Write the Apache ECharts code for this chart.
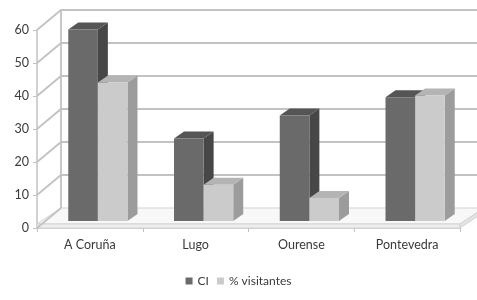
<!DOCTYPE html>
<html>
<head>
<meta charset="utf-8">
<script src="https://cdn.jsdelivr.net/npm/echarts@6/dist/echarts.min.js"></script>
<style>
  html, body { margin: 0; padding: 0; background: #fff; }
  #grafico { width: 477px; height: 300px; }
</style>
</head>
<body>
<div id="grafico"></div>
<script>
// datos
const provincias = ["A Coruña", "Lugo", "Ourense", "Pontevedra"];
const valoresCI = [58, 25, 32, 37.5];
const valoresVisitantes = [42, 11, 7, 38];
const ticksY = [0, 10, 20, 30, 40, 50, 60];

// profundidad 3D (pixeles)
const FONDO_X = 24, FONDO_Y = -20;
const BARRA_X = 8, BARRA_Y = -7;
const LADO_X = 10, LADO_Y = -7;

const chart = echarts.init(document.getElementById("grafico"));

// paredes y suelo
function pintarParedes(params, api) {
  const cs = params.coordSys;
  const v = api.value(0);
  const y = api.coord([0, v])[1];
  const L = cs.x, R = cs.x + cs.width;
  const linea = { stroke: "#c2c2c2", lineWidth: 1.8, fill: null };
  const hijos = [];
  if (v === 0) {
    const y0 = y;
    hijos.push({
      type: "polygon",
      shape: { points: [[L, y0 - 4], [R, y0 - 4], [R + FONDO_X, y0 + FONDO_Y], [L + FONDO_X, y0 + FONDO_Y]] },
      style: { fill: "#f8f8f8", stroke: "#d2d2d2", lineWidth: 1 }
    });
    hijos.push({
      type: "rect",
      shape: { x: L, y: y0 - 4, width: R - L, height: 4 },
      style: { fill: "#eeeeee", stroke: "#d2d2d2", lineWidth: 1 }
    });
    hijos.push({
      type: "polygon",
      shape: { points: [[R, y0 - 4], [R + FONDO_X, y0 + FONDO_Y], [R + FONDO_X, y0 + FONDO_Y + 4], [R, y0]] },
      style: { fill: "#e4e4e4", stroke: "#d2d2d2", lineWidth: 1 }
    });
    const yTop = api.coord([0, ticksY[ticksY.length - 1]])[1];
    hijos.push({
      type: "line",
      shape: { x1: L + FONDO_X, y1: y0 + FONDO_Y, x2: L + FONDO_X, y2: yTop + FONDO_Y },
      style: linea
    });
    hijos.push({
      type: "line",
      shape: { x1: L, y1: y0, x2: L + FONDO_X, y2: y0 + FONDO_Y },
      style: linea
    });
  } else {
    hijos.push({
      type: "polyline",
      shape: { points: [[L, y], [L + FONDO_X, y + FONDO_Y], [R + FONDO_X, y + FONDO_Y]] },
      style: linea
    });
  }
  return { type: "group", children: hijos };
}

function pintarBarra(params, api) {
  const idx = api.value(0);
  const val = api.value(1);
  const base = api.coord([idx, 0]);
  const tope = api.coord([idx, val]);
  const w = api.size([1, 0])[0] * 0.28;
  const x0 = (params.seriesIndex === 1 ? base[0] - w : base[0]) + BARRA_X;
  const yT = tope[1] + BARRA_Y;
  const yB = base[1] + BARRA_Y;
  const colores = params.seriesIndex === 1
    ? { frente: "#6a6a6a", lado: "#474747", arriba: "#555555" }
    : { frente: "#cbcbcb", lado: "#9c9c9c", arriba: "#b4b4b4" };
  return {
    type: "group",
    children: [
      {
        type: "polygon",
        shape: { points: [[x0 + w, yT], [x0 + w + LADO_X, yT + LADO_Y], [x0 + w + LADO_X, yB + LADO_Y], [x0 + w, yB]] },
        style: { fill: colores.lado }
      },
      {
        type: "polygon",
        shape: { points: [[x0, yT], [x0 + LADO_X, yT + LADO_Y], [x0 + w + LADO_X, yT + LADO_Y], [x0 + w, yT]] },
        style: { fill: colores.arriba }
      },
      {
        type: "rect",
        shape: { x: x0, y: yT, width: w, height: yB - yT },
        style: { fill: colores.frente }
      }
    ]
  };
}

chart.setOption({
  animation: false,
  textStyle: { fontFamily: "Lato, 'Open Sans', sans-serif" },
  grid: { left: 37, right: 17, top: 30, bottom: 72 },
  legend: {
    bottom: 8,
    left: "center",
    icon: "rect",
    itemWidth: 7,
    itemHeight: 7,
    itemGap: 8,
    textStyle: { fontSize: 12, color: "#3a3a3a" },
    data: ["CI", "% visitantes"]
  },
  xAxis: {
    type: "category",
    data: provincias,
    axisLine: { lineStyle: { color: "#c2c2c2", width: 1.5 } },
    axisTick: { show: true, length: 4, lineStyle: { color: "#c2c2c2" } },
    axisLabel: { fontSize: 12.5, color: "#3a3a3a", margin: 10 }
  },
  yAxis: {
    type: "value",
    min: 0,
    max: 60,
    interval: 10,
    splitLine: { show: false },
    axisLine: { show: true, lineStyle: { color: "#c2c2c2", width: 1.5 } },
    axisTick: { show: true, length: 4, lineStyle: { color: "#c2c2c2" } },
    axisLabel: { fontSize: 12.5, color: "#3a3a3a", margin: 8 }
  },
  series: [
    {
      name: "paredes",
      type: "custom",
      renderItem: pintarParedes,
      data: ticksY.map((v) => [v]),
      encode: { y: 0 },
      silent: true,
      z: 1
    },
    {
      name: "CI",
      type: "custom",
      renderItem: pintarBarra,
      itemStyle: { color: "#6a6a6a" },
      data: valoresCI.map((v, i) => [i, v]),
      encode: { x: 0, y: 1 },
      z: 3
    },
    {
      name: "% visitantes",
      type: "custom",
      renderItem: pintarBarra,
      itemStyle: { color: "#cbcbcb" },
      data: valoresVisitantes.map((v, i) => [i, v]),
      encode: { x: 0, y: 1 },
      z: 3
    }
  ]
});
</script>
</body>
</html>
